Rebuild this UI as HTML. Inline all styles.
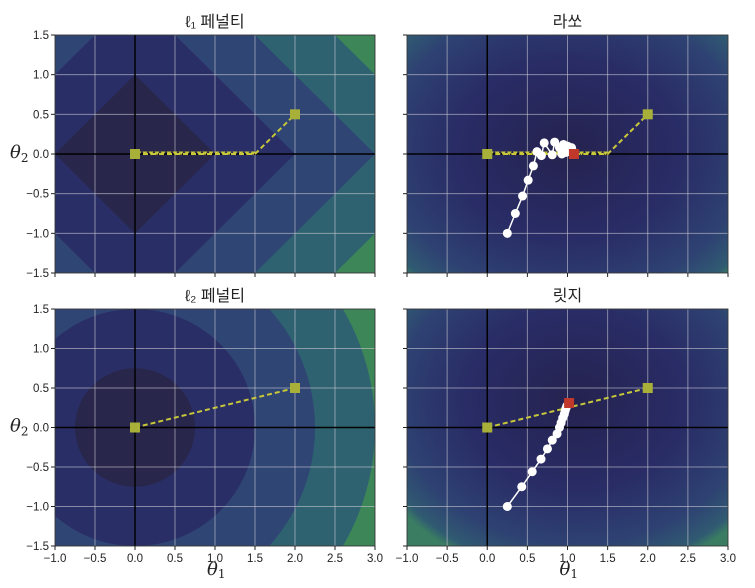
<!DOCTYPE html>
<html><head><meta charset="utf-8">
<style>
html,body{margin:0;padding:0;background:#fff;overflow:hidden;width:755px;height:588px;}
svg{display:block;}
text{font-family:"Liberation Sans","Noto Sans CJK KR",sans-serif;}
</style></head>
<body>
<svg id="fig" width="755" height="588" viewBox="0 0 755 588" xmlns="http://www.w3.org/2000/svg">
<defs>
<radialGradient id="gLasso" gradientUnits="userSpaceOnUse" cx="567" cy="150" r="1" gradientTransform="translate(567 150) scale(225 180) translate(-567 -150)" fx="567" fy="150">
<stop offset="0" stop-color="#24224f"/><stop offset="0.5" stop-color="#292c66"/><stop offset="0.8" stop-color="#2e4172"/><stop offset="0.95" stop-color="#305a72"/><stop offset="1.1" stop-color="#3a7d62"/>
</radialGradient>
<radialGradient id="gRidge" gradientUnits="userSpaceOnUse" cx="575" cy="400" r="1" gradientTransform="translate(575 400) scale(220 180) translate(-575 -400)" fx="575" fy="400">
<stop offset="0" stop-color="#24224f"/><stop offset="0.5" stop-color="#292c66"/><stop offset="0.8" stop-color="#2e4172"/><stop offset="0.95" stop-color="#305a72"/><stop offset="1.1" stop-color="#3a7d62"/>
</radialGradient>
</defs>
</svg>
<script>
// ---- data ----
const xTicks = [-1.0,-0.5,0.0,0.5,1.0,1.5,2.0,2.5,3.0];
const yTicks = [-1.5,-1.0,-0.5,0.0,0.5,1.0,1.5];
const xTickLabels = ["\u22121.0","\u22120.5","0.0","0.5","1.0","1.5","2.0","2.5","3.0"];
const yTickLabels = ["\u22121.5","\u22121.0","\u22120.5","0.0","0.5","1.0","1.5"];
const l1Levels = [4,3,2,1];
const l2Levels = [3,2.25,1.5,0.75];
const levelColors = ["#2f6270","#2f4574","#2a2e66","#28264a"];
const outerColor = "#3c8658";
const penaltyPathL1X = [0,1.5,2];
const penaltyPathL1Y = [0,0,0.5];
const penaltyPathL2X = [0,2];
const penaltyPathL2Y = [0,0.5];
const lassoX = [0.25,0.35,0.44,0.51,0.575,0.62,0.675,0.71,0.81,0.84,0.9,0.95,1.0,1.05,1.08,0.93,0.98,1.03,1.08];
const lassoY = [-1,-0.75,-0.53,-0.33,-0.15,0.03,-0.02,0.14,-0.01,0.15,0.08,0.12,0.1,0.08,0.0,0.0,0.02,0.03,0.02];
const lassoEnd = [1.08,0];
const ridgeX = [0.25,0.43,0.56,0.67,0.75,0.81,0.87,0.9,0.92,0.94,0.96,0.97,0.98,0.99];
const ridgeY = [-1,-0.75,-0.56,-0.40,-0.27,-0.16,-0.08,0.0,0.06,0.12,0.17,0.21,0.24,0.27];
const ridgeEnd = [1.02,0.31];

const svg = document.getElementById('fig');
const NS = "http://www.w3.org/2000/svg";
function mk(tag, attrs, parent){const e=document.createElementNS(NS,tag);for(const k in attrs)e.setAttribute(k,attrs[k]);(parent||svg).appendChild(e);return e;}

const panels = [
 {name:'l1-penalty', title:'\u2113\u2081 페널티', x0:55,x1:375,y0:35,y1:273, type:'l1', ylab:true, xlab:false},
 {name:'lasso', title:'라쏘', x0:407,x1:728,y0:35,y1:273, type:'lasso', ylab:false, xlab:false},
 {name:'l2-penalty', title:'\u2113\u2082 페널티', x0:55,x1:375,y0:309,y1:546, type:'l2', ylab:true, xlab:true},
 {name:'ridge', title:'릿지', x0:407,x1:728,y0:309,y1:546, type:'ridge', ylab:false, xlab:true}
];

panels.forEach((p,pi)=>{
 const sx = v => p.x0 + (v+1)/4*(p.x1-p.x0);
 const sy = v => p.y1 - (v+1.5)/3*(p.y1-p.y0);
 const g = mk('g',{});
 
 
 const cid='clip'+pi;
 const cp = mk('clipPath',{id:cid},svg.querySelector('defs'));
 mk('rect',{x:p.x0,y:p.y0,width:p.x1-p.x0,height:p.y1-p.y0},cp);
 const bg = mk('g',{'clip-path':`url(#${cid})`},g);
 
 
 if(p.type==='l1'||p.type==='l2'){
   mk('rect',{x:p.x0,y:p.y0,width:p.x1-p.x0,height:p.y1-p.y0,fill:outerColor},bg);
   const lv = p.type==='l1'?l1Levels:l2Levels;
   lv.forEach((r,i)=>{
     let e;
     if(p.type==='l1'){
       e = mk('polygon',{points:`${sx(r)},${sy(0)} ${sx(0)},${sy(r)} ${sx(-r)},${sy(0)} ${sx(0)},${sy(-r)}`,fill:levelColors[i]},bg);
     } else {
       e = mk('ellipse',{cx:sx(0),cy:sy(0),rx:sx(r)-sx(0),ry:sy(0)-sy(r),fill:levelColors[i]},bg);
     }
     
     
   });
 } else {
   mk('rect',{x:p.x0,y:p.y0,width:p.x1-p.x0,height:p.y1-p.y0,fill:p.type==='lasso'?'url(#gLasso)':'url(#gRidge)'},bg);
 }
 xTicks.forEach(t=>{const l=mk('line',{x1:sx(t),x2:sx(t),y1:p.y0,y2:p.y1,stroke:'#c8c8d0','stroke-width':1,'stroke-opacity':0.6},bg);
   });
 yTicks.forEach(t=>{const l=mk('line',{x1:p.x0,x2:p.x1,y1:sy(t),y2:sy(t),stroke:'#c8c8d0','stroke-width':1,'stroke-opacity':0.6},bg);
   });
 const ax=mk('line',{x1:p.x0,x2:p.x1,y1:sy(0),y2:sy(0),stroke:'#000','stroke-width':1.5},bg);
 
 const ay=mk('line',{x1:sx(0),x2:sx(0),y1:p.y0,y2:p.y1,stroke:'#000','stroke-width':1.5},bg);
 
 const isL1 = (p.type==='l1'||p.type==='lasso');
 const px = isL1?penaltyPathL1X:penaltyPathL2X, py = isL1?penaltyPathL1Y:penaltyPathL2Y;
 const pts = px.map((v,i)=>sx(v)+','+sy(py[i])).join(' ');
 const pl = mk('polyline',{points:pts,fill:'none',stroke:'#c8c83a','stroke-width':2,'stroke-dasharray':'5,3'},bg);
 
 if(isL1){
   for(let v=0.05; v<1.5; v+=0.075){
     const m=mk('path',{d:`M${sx(v)-2.5},${sy(0)-2.5} L${sx(v)+2.5},${sy(0)-2.5} L${sx(v)},${sy(0)+1.5} Z`,fill:'#c8c83a'},bg);
     
   }
 }
 [[px[0],py[0]],[px[px.length-1],py[py.length-1]]].forEach(q=>{
   const s=mk('rect',{x:sx(q[0])-5,y:sy(q[1])-5,width:10,height:10,fill:'#a8b03a'},bg);
   
 });
 if(p.type==='lasso'||p.type==='ridge'){
   const X=p.type==='lasso'?lassoX:ridgeX, Y=p.type==='lasso'?lassoY:ridgeY, E=p.type==='lasso'?lassoEnd:ridgeEnd;
   const gl=mk('polyline',{points:X.map((v,i)=>sx(v)+','+sy(Y[i])).join(' ')+' '+sx(E[0])+','+sy(E[1]),fill:'none',stroke:'#fff','stroke-width':1.5},bg);
   
   X.forEach((v,i)=>{const c=mk('circle',{cx:sx(v),cy:sy(Y[i]),r:4.5,fill:'#fff'},bg);
     });
   const r=mk('rect',{x:sx(E[0])-5,y:sy(E[1])-5,width:10,height:10,fill:'#c0392b'},bg);
   
 }
 const fr=mk('rect',{x:p.x0,y:p.y0,width:p.x1-p.x0,height:p.y1-p.y0,fill:'none',stroke:'#222','stroke-width':0.8},g);
 
 xTicks.forEach((t,i)=>{mk('line',{x1:sx(t),x2:sx(t),y1:p.y1,y2:p.y1+4,stroke:'#222'},g);
   if(p.xlab){const tx=mk('text',{x:sx(t),y:p.y1+16,'font-size':11.5,'text-anchor':'middle',fill:'#222'},g);tx.textContent=xTickLabels[i];
     }});
 yTicks.forEach((t,i)=>{mk('line',{x1:p.x0-4,x2:p.x0,y1:sy(t),y2:sy(t),stroke:'#222'},g);
   if(p.ylab){const tx=mk('text',{x:p.x0-6,y:sy(t)+4,'font-size':11.5,'text-anchor':'end',fill:'#222'},g);tx.textContent=yTickLabels[i];
     }});
 const tt=mk('text',{x:(p.x0+p.x1)/2,y:p.y0-8,'font-size':16,'text-anchor':'middle',fill:'#222'},g);
 tt.textContent=p.title;
 if(p.ylab){const t=mk('text',{x:10,y:sy(0)+4,'font-size':18,'font-style':'italic',fill:'#222',style:'font-family:"DejaVu Serif",serif'},g);
   t.innerHTML='θ<tspan font-size="12" dy="4" font-style="normal">2</tspan>';}
 if(p.xlab){const t=mk('text',{x:(p.x0+p.x1)/2-8,y:p.y1+29,'font-size':18,'font-style':'italic',fill:'#222',style:'font-family:"DejaVu Serif",serif'},g);
   t.innerHTML='θ<tspan font-size="12" dy="3" font-style="normal">1</tspan>';}
});
</script>
</body></html>
